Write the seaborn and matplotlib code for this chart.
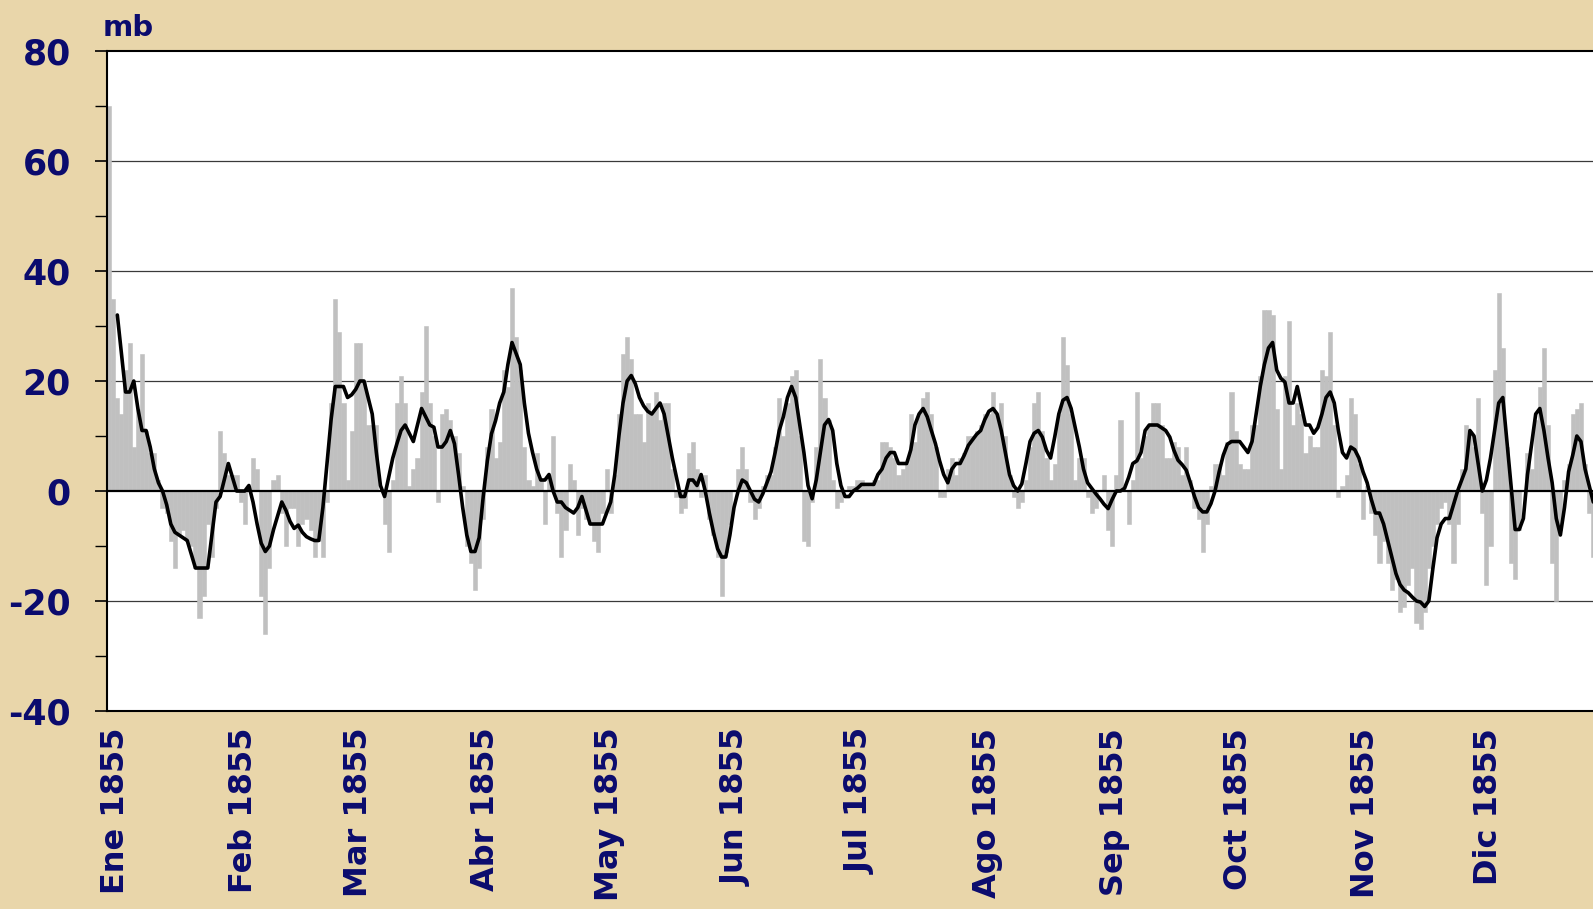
import numpy as np
import pandas as pd
import seaborn as sns
import matplotlib.pyplot as plt
from matplotlib.ticker import MultipleLocator

# valores diarios (mb), 1855
ene = [70, 35, 17, 14, 22, 27, 8, 15, 25, 11, 7, 7, 2, -3, -4, -9, -14, -8, -7, -9,
       -10, -14, -23, -19, -6, -12, -3, 11, 7, 3, 3]
feb = [3, -2, -6, 1, 6, 4, -19, -26, -14, 2, 3, -4, -10, -3, -3, -10, -6, -5, -7, -12,
       -9, -12, -2, 16, 35, 29, 16, 2]
mar = [11, 27, 27, 20, 12, 12, 12, 0, -6, -11, 2, 16, 21, 16, 1, 4, 6, 18, 30, 16,
       10, -2, 14, 15, 13, 10, 7, 1, -10, -13, -18]
abr = [-14, -5, 8, 15, 6, 9, 22, 19, 37, 28, 22, 8, 2, 1, 7, 2, -6, 3, 10, -4,
       -12, -7, 5, 2, -8, -3, -5, -6, -9, -11]
may = [-4, 4, -4, 3, 14, 25, 28, 24, 14, 14, 9, 16, 14, 18, 13, 16, 16, 4, -1, -4,
       -3, 7, 9, 4, -1, 3, -5, -8, -12, -19, -11]
jun = [-6, 0, 4, 8, 4, -2, -5, -3, 1, 3, 3, 8, 17, 10, 16, 21, 22, 10, -9, -10,
       -2, 8, 24, 17, 13, 2, -3, -2, 0, 1]
jul = [1, 2, 2, 1, 1, 2, 2, 9, 9, 8, 6, 3, 4, 5, 14, 9, 14, 17, 18, 14,
       8, -1, -1, 4, 6, 3, 6, 7, 10, 10, 11]
ago = [12, 14, 14, 18, 14, 16, 10, 3, -1, -3, -2, 2, 8, 16, 18, 11, 6, 2, 5, 14,
       28, 23, 14, 2, 6, 6, -1, -4, -3, 0, 3]
sep = [-7, -10, 3, 13, 0, -6, 2, 18, 6, 10, 12, 16, 16, 12, 6, 6, 9, 8, 3, 8,
       2, -3, -5, -11, -6, 1, 5, 5, 3, 9]
octu = [18, 11, 5, 4, 4, 12, 12, 21, 33, 33, 32, 15, 4, 21, 31, 12, 16, 14, 7, 10,
        8, 8, 22, 21, 29, 12, -1, 1, 3, 17, 14]
nov = [5, -5, 1, -4, -8, -13, -9, -13, -18, -16, -22, -21, -17, -14, -24, -25, -22, -14, -10, -6,
       -3, -2, -6, -13, -6, 4, 12, 11, 8, 17]
dic = [-4, -17, -10, 22, 36, 26, 8, -13, -16, -7, 0, 7, 4, 13, 19, 26, 12, -13, -20, -7,
       2, 5, 14, 15, 16, 5, -4, -12]

# media movil (linea negra), desde el dia 3 de enero
m_ene = [32, 25, 18, 18, 20, 15, 11, 11, 8, 4, 1.5, 0, -2.5, -6, -7.5, -8, -8.5, -9, -11.5, -14,
         -14, -14, -14, -8, -2, -1, 2, 5, 2.5]
m_feb = [0, 0, 0, 1, -2, -6, -9.5, -11, -10, -7, -4.5, -2, -3.5, -5.5, -6.8, -6.2, -7.5, -8.3, -8.7, -9,
         -9, -3, 5, 13, 19, 19, 19, 17]
m_mar = [17.5, 18.5, 20, 20, 17, 14, 7, 1, -1, 2.5, 6, 8.6, 11, 12, 10.5, 9, 12, 15, 13.5, 12,
         11.6, 8, 8, 9, 11, 8.6, 3, -3, -8, -11, -11]
m_abr = [-8.5, -1, 5.5, 10.4, 12.8, 16, 18, 23, 27, 25, 23, 16, 10.5, 7, 4, 2, 2, 3, 0, -2,
         -2, -3, -3.5, -4, -3, -1, -3.5, -6, -6, -6]
m_may = [-6, -4, -2, 3, 10, 16, 20, 21, 19.5, 17, 15.5, 14.5, 14, 15, 16, 14, 10, 6, 2.5, -1,
         -1, 2, 2, 1, 3, 0, -4, -7.5, -10.5, -12, -12]
m_jun = [-8, -3, 0, 2, 1.5, 0, -1.5, -2, -0.5, 1.5, 3.5, 7, 11, 13.5, 17, 19, 17, 12, 7, 1,
         -1.4, 2, 7, 12, 13, 11, 5, 1, -1, -1]
m_jul = [0, 0.5, 1.2, 1.2, 1.2, 1.2, 3, 4, 6, 7, 7, 5, 5, 5, 7.5, 12, 14, 15, 13.5, 11,
         8.6, 5.5, 3, 1.5, 4, 5, 5, 6.5, 8.3, 9.3, 10.3]
m_ago = [11, 13, 14.5, 15, 14, 11, 7, 3, 1, 0, 1.3, 5, 9, 10.5, 11, 9.8, 7.4, 6, 9.8, 14,
         16.5, 17, 15, 11.5, 8, 4, 1.5, 0.5, -0.5, -1.4, -2.4]
m_sep = [-3.2, -1.5, 0, 0, 0.5, 2.5, 5, 5.5, 7, 11, 12, 12, 12, 11.5, 11, 9.8, 7.4, 5.6, 4.8, 3.8,
         1.5, -1, -3, -3.8, -3.8, -2.3, 0, 3.5, 6.5, 8.5]
m_oct = [9, 9, 9, 8, 7, 9, 14, 19, 23, 26, 27, 22, 20.5, 19.8, 16, 16, 19, 15.5, 12, 12,
         10.5, 11.5, 14, 17, 18, 16, 11, 7, 6, 8, 7.5]
m_nov = [6, 3.5, 1.5, -1.5, -4, -4, -6, -9, -12, -15, -17, -18, -18.5, -19.3, -20, -20.2, -21, -20, -14, -8.5,
         -6, -5, -5, -2.5, 0, 2, 4, 11, 10, 5]
m_dic = [0, 2, 6, 11, 16, 17, 9, 1, -7, -7, -5, 3, 8.5, 14, 15, 11, 6, 1.5, -5, -8,
         -3, 3.5, 6.5, 10, 9, 4, 1, -2]

meses = ['Ene 1855', 'Feb 1855', 'Mar 1855', 'Abr 1855', 'May 1855', 'Jun 1855',
         'Jul 1855', 'Ago 1855', 'Sep 1855', 'Oct 1855', 'Nov 1855', 'Dic 1855']
dias_mes = [31, 28, 31, 30, 31, 30, 31, 31, 30, 31, 30, 31]

valores = ene + feb + mar + abr + may + jun + jul + ago + sep + octu + nov + dic
media = m_ene + m_feb + m_mar + m_abr + m_may + m_jun + m_jul + m_ago + m_sep + m_oct + m_nov + m_dic

df = pd.DataFrame({'dia': np.arange(len(valores)), 'valor': valores})
dfm = pd.DataFrame({'dia': np.arange(2, 2 + len(media)), 'valor': media})

navy = '#0B0B6E'
sns.set_style('white')
plt.rcParams['font.family'] = ['DejaVu Sans']
plt.rcParams['axes.unicode_minus'] = False

fig = plt.figure(figsize=(15.93, 9.09), dpi=100)
fig.patch.set_facecolor('#E9D6AA')
# el eje sigue mas alla del borde derecho, como en el original
ax = fig.add_axes([0.0672, 0.2178, 0.942, 0.7261])
ax.set_facecolor('white')

sns.barplot(data=df, x='dia', y='valor', native_scale=True, color='#C0C0C0',
            width=1, saturation=1, errorbar=None, edgecolor='#C0C0C0',
            linewidth=0.4, ax=ax, zorder=2)
sns.lineplot(data=dfm, x='dia', y='valor', color='black', lw=2.6, ax=ax, zorder=4)

ax.set_xlim(-0.5, 364.5)
ax.set_ylim(-40, 80)
ax.yaxis.set_major_locator(MultipleLocator(20))
ax.yaxis.set_minor_locator(MultipleLocator(10))
for g in [-20, 20, 40, 60]:
    ax.axhline(g, color='#3A3A3A', lw=0.9, zorder=1)
ax.axhline(0, color='black', lw=1.6, zorder=3)

inicio = np.cumsum([0] + dias_mes[:-1])
ax.set_xticks(inicio + 1.6)
ax.set_xticklabels(meses, rotation=90, fontsize=23, fontweight='bold', color=navy)
ax.tick_params(axis='x', length=0, pad=12)
ax.tick_params(axis='y', which='major', direction='out', length=9, width=1.2,
               color='black', pad=17, labelsize=25, labelcolor=navy, left=True)
ax.tick_params(axis='y', which='minor', direction='out', length=9, width=1.0,
               color='black', left=True)
for t in ax.get_yticklabels():
    t.set_fontweight('bold')
ax.set_xlabel('')
ax.set_ylabel('')
for s in ['top', 'left', 'bottom']:
    ax.spines[s].set_color('black')
    ax.spines[s].set_linewidth(1.5)
ax.spines['right'].set_visible(False)

fig.text(0.0645, 0.985, 'mb', fontsize=21, fontweight='bold', color=navy,
         va='top', ha='left')

fig.savefig('out.png', dpi=100, facecolor=fig.get_facecolor())
